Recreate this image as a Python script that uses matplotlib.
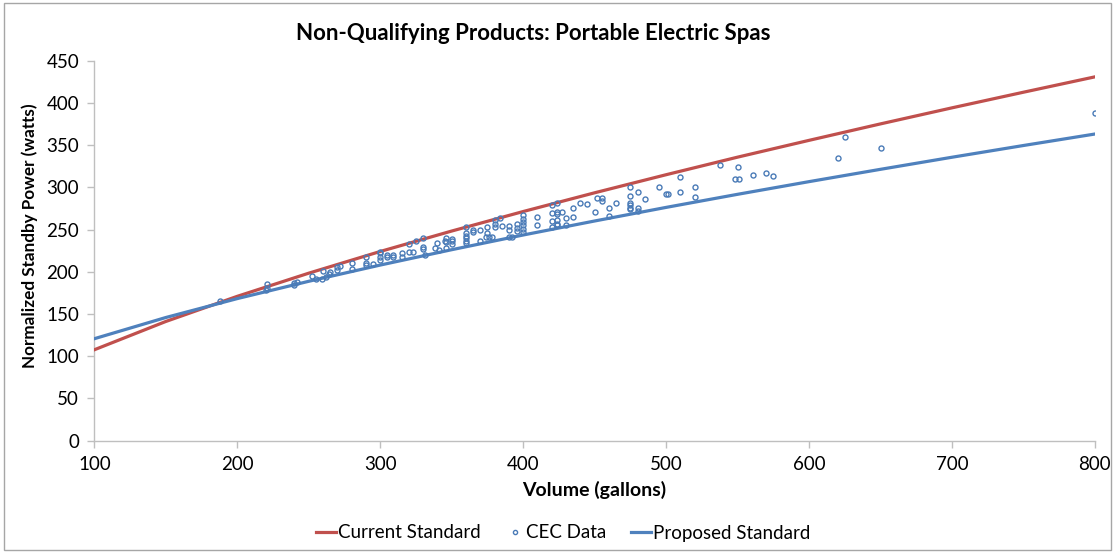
import numpy as np
import matplotlib.pyplot as plt
from matplotlib.patches import Rectangle

plt.rcParams['font.family'] = ['Lato', 'DejaVu Sans']

#%% Data
# standard curves, sampled every 50 gallons
std_volume = [100, 150, 200, 250, 300, 350, 400, 450, 500, 550, 600, 650, 700, 750, 800]
current_std = [107.7, 141.2, 171.0, 198.4, 224.1, 248.3, 271.4, 293.6, 315.0, 335.8,
               355.7, 375.2, 394.2, 412.7, 430.9]
proposed_std = [120.8, 145.9, 168.3, 188.8, 208.0, 226.2, 243.6, 260.2, 276.3, 291.8,
                306.8, 321.4, 335.7, 349.6, 363.2]

# CEC measured units
cec_volume = [188, 220, 221, 221, 240, 240, 242, 252, 255, 259, 260, 262, 264, 265,
              270, 270, 272, 280, 280, 290, 290, 290, 295, 300, 300, 300, 300,
              305, 305, 309, 309, 315, 315, 320, 320, 323, 325, 330, 330, 330, 331,
              338, 340, 341, 345, 346, 346, 346, 350, 350, 350,
              360, 360, 360, 360, 360, 360, 365, 365, 370, 370, 375, 375, 374, 376, 378,
              380, 380, 380, 384, 385, 390, 390, 390, 392, 396, 396, 396,
              400, 400, 400, 400, 400, 400, 410, 410,
              420, 424, 420, 424, 427, 424, 420, 424, 424, 420, 424, 430, 430, 435, 435,
              440, 445, 450, 452, 455, 455, 460, 460, 465, 475, 475, 475, 475, 475, 475,
              480, 480, 480, 485, 495, 500, 501, 510, 510, 520, 520,
              538, 550, 548, 551, 561, 570, 575, 620, 625, 650, 800]
cec_power = [166, 179, 181, 185, 184, 187, 188, 195, 192, 192, 201, 194, 198, 200,
             206, 202, 207, 210, 203, 217, 210, 208, 209, 222, 224, 218, 214,
             218, 220, 220, 218, 222, 218, 233, 224, 224, 237, 240, 229, 227, 220,
             228, 234, 226, 236, 240, 235, 228, 239, 236, 233,
             253, 246, 243, 240, 236, 234, 249, 247, 249, 236, 253, 246, 241, 241, 241,
             261, 257, 253, 264, 254, 254, 249, 241, 241, 257, 252, 248,
             267, 263, 259, 255, 251, 247, 265, 255,
             279, 282, 270, 271, 271, 268, 260, 261, 257, 253, 255, 264, 255, 276, 265,
             282, 280, 271, 287, 288, 284, 275, 266, 281, 301, 290, 282, 279, 276, 274,
             294, 276, 272, 286, 301, 292, 292, 312, 295, 300, 289,
             326, 324, 310, 310, 315, 317, 313, 335, 360, 347, 388]

red = '#C0504D'
blue = '#4F81BD'
axis_grey = '#BFBFBF'

#%% Plot
fig = plt.figure(figsize=(11.15, 5.52), dpi=100)
ax = fig.add_axes([0.0846, 0.2016, 0.8974, 0.6884])

ax.plot(std_volume, current_std, color=red, lw=2.3, label='Current Standard', zorder=3)
ax.plot(cec_volume, cec_power, 'o', ls='none', ms=3.6, mfc='none', mec='#4A7BB7',
        mew=1.0, label='CEC Data', zorder=4)
ax.plot(std_volume, proposed_std, color=blue, lw=2.3, label='Proposed Standard', zorder=3)

ax.set_xlim(100, 800)
ax.set_ylim(0, 450)
ax.set_xticks(np.arange(100, 801, 100))
ax.set_yticks(np.arange(0, 451, 50))

for side in ['top', 'right']:
    ax.spines[side].set_visible(False)
for side in ['left', 'bottom']:
    ax.spines[side].set_color(axis_grey)
    ax.spines[side].set_linewidth(1.0)
ax.tick_params(axis='both', direction='out', length=5, width=1.0, color=axis_grey,
               labelsize=13.5, labelcolor='black', pad=6)

ax.set_xlabel('Volume (gallons)', fontsize=14, fontweight='bold', labelpad=6)
ax.set_ylabel('Normalized Standby Power (watts)', fontsize=12.3, fontweight='bold')
ax.yaxis.set_label_coords(-0.056, 0.54)

fig.text(533 / 1115, 1 - 34 / 552, 'Non-Qualifying Products: Portable Electric Spas',
         ha='center', va='center', fontsize=16, fontweight='bold')

leg = fig.legend(loc='center', bbox_to_anchor=(563 / 1115, 1 - 533 / 552), ncol=3,
                 frameon=False, fontsize=13.5, handlelength=1.05, columnspacing=1.3,
                 handletextpad=0.1)
for h in leg.legend_handles:
    if h.get_label() == 'CEC Data':
        h.set_markersize(3.0)

# chart-area border
fig.add_artist(Rectangle((0.004, 0.004), 0.992, 0.99, transform=fig.transFigure,
                         fill=False, edgecolor='#A6A6A6', lw=1.0))

plt.savefig('out.png', dpi=100)
